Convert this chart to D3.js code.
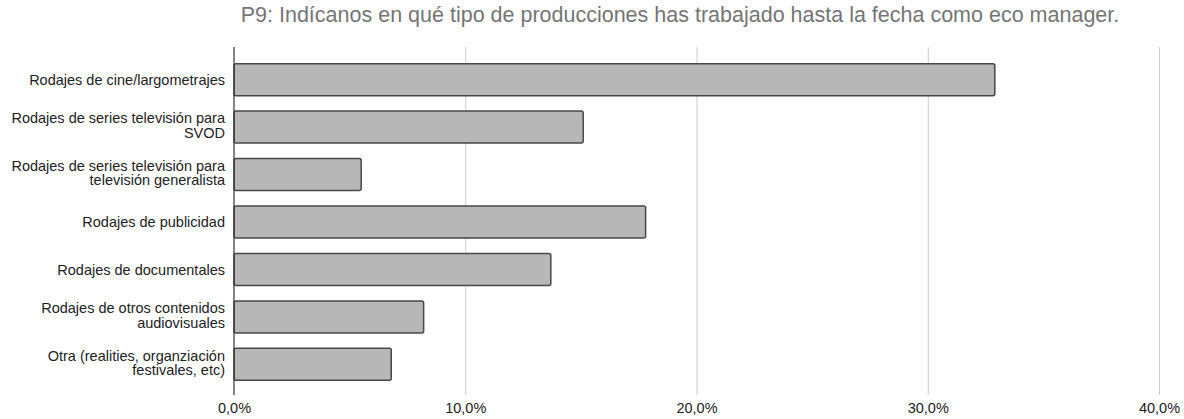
<!DOCTYPE html>
<html>
<head>
<meta charset="utf-8">
<script src="https://cdn.jsdelivr.net/npm/d3@7"></script>
<style>
  body { margin: 0; background: #fff; }
  svg { font-family: "Liberation Sans", Arial, sans-serif; }
</style>
</head>
<body>
<svg id="chart"></svg>
<script>
const categories = [
  ["Rodajes de cine/largometrajes"],
  ["Rodajes de series televisión para", "SVOD"],
  ["Rodajes de series televisión para", "televisión generalista"],
  ["Rodajes de publicidad"],
  ["Rodajes de documentales"],
  ["Rodajes de otros contenidos", "audiovisuales"],
  ["Otra (realities, organziación", "festivales, etc)"]
];
const values = [32.9, 15.1, 5.5, 17.8, 13.7, 8.2, 6.8];
const ticks = [0, 10, 20, 30, 40];
const title = "P9: Indícanos en qué tipo de producciones has trabajado hasta la fecha como eco manager.";

const width = 1184;
const height = 419;
const plotLeft = 234, plotRight = 1159, plotTop = 47, plotBottom = 395;

const svg = d3.select("#chart")
  .attr("width", width)
  .attr("height", height);

const x = d3.scaleLinear()
  .domain([0, 40])
  .range([plotLeft, plotRight]);

const y = d3.scaleBand()
  .domain(d3.range(categories.length))
  .range([plotTop + 1, plotBottom + 1])
  .paddingInner(0.326)
  .paddingOuter(0.33);

svg.append("text")
  .attr("x", 680)
  .attr("y", 22)
  .attr("text-anchor", "middle")
  .attr("fill", "#757575")
  .style("font-size", "21.5px")
  .text(title);

// gridlines
svg.append("g")
  .selectAll("line")
  .data(ticks.slice(1))
  .enter().append("line")
  .attr("x1", d => x(d) + 0.5)
  .attr("x2", d => x(d) + 0.5)
  .attr("y1", plotTop)
  .attr("y2", plotBottom)
  .attr("stroke", "#cccccc")
  .attr("stroke-width", 1);

const xAxis = d3.axisBottom(x)
  .tickValues(ticks)
  .tickSize(0)
  .tickPadding(8)
  .tickFormat(d => d.toFixed(1).replace(".", ",") + "%");

const gx = svg.append("g")
  .attr("transform", `translate(0, ${plotBottom})`)
  .call(xAxis);
gx.select(".domain").remove();
gx.selectAll("text")
  .attr("fill", "#222")
  .style("font-size", "14.5px")
  .attr("font-family", null);

svg.selectAll(".bar")
  .data(values)
  .enter().append("rect")
  .attr("class", "bar")
  .attr("x", x(0))
  .attr("y", (d, i) => y(i))
  .attr("width", d => x(d) - x(0))
  .attr("height", y.bandwidth())
  .attr("rx", 2)
  .attr("fill", "#b7b7b7")
  .attr("stroke", "#474747")
  .attr("stroke-width", 1.5);

// zero axis
svg.append("line")
  .attr("x1", x(0))
  .attr("x2", x(0))
  .attr("y1", plotTop)
  .attr("y2", plotBottom)
  .attr("stroke", "#333")
  .attr("stroke-width", 1.2);

const labels = svg.append("g")
  .selectAll("text")
  .data(categories)
  .enter().append("text")
  .attr("text-anchor", "end")
  .attr("fill", "#222")
  .style("font-size", "14.5px")
  .attr("transform", (d, i) => `translate(${x(0) - 9}, ${y(i) + y.bandwidth() / 2})`);

labels.selectAll("tspan")
  .data(d => d.map((t, j) => ({ t, j, n: d.length })))
  .enter().append("tspan")
  .attr("x", 0)
  .attr("y", d => (d.j - (d.n - 1) / 2) * 14.5 - (d.n - 1) * 1.5)
  .attr("dy", "0.35em")
  .text(d => d.t);
</script>
</body>
</html>
